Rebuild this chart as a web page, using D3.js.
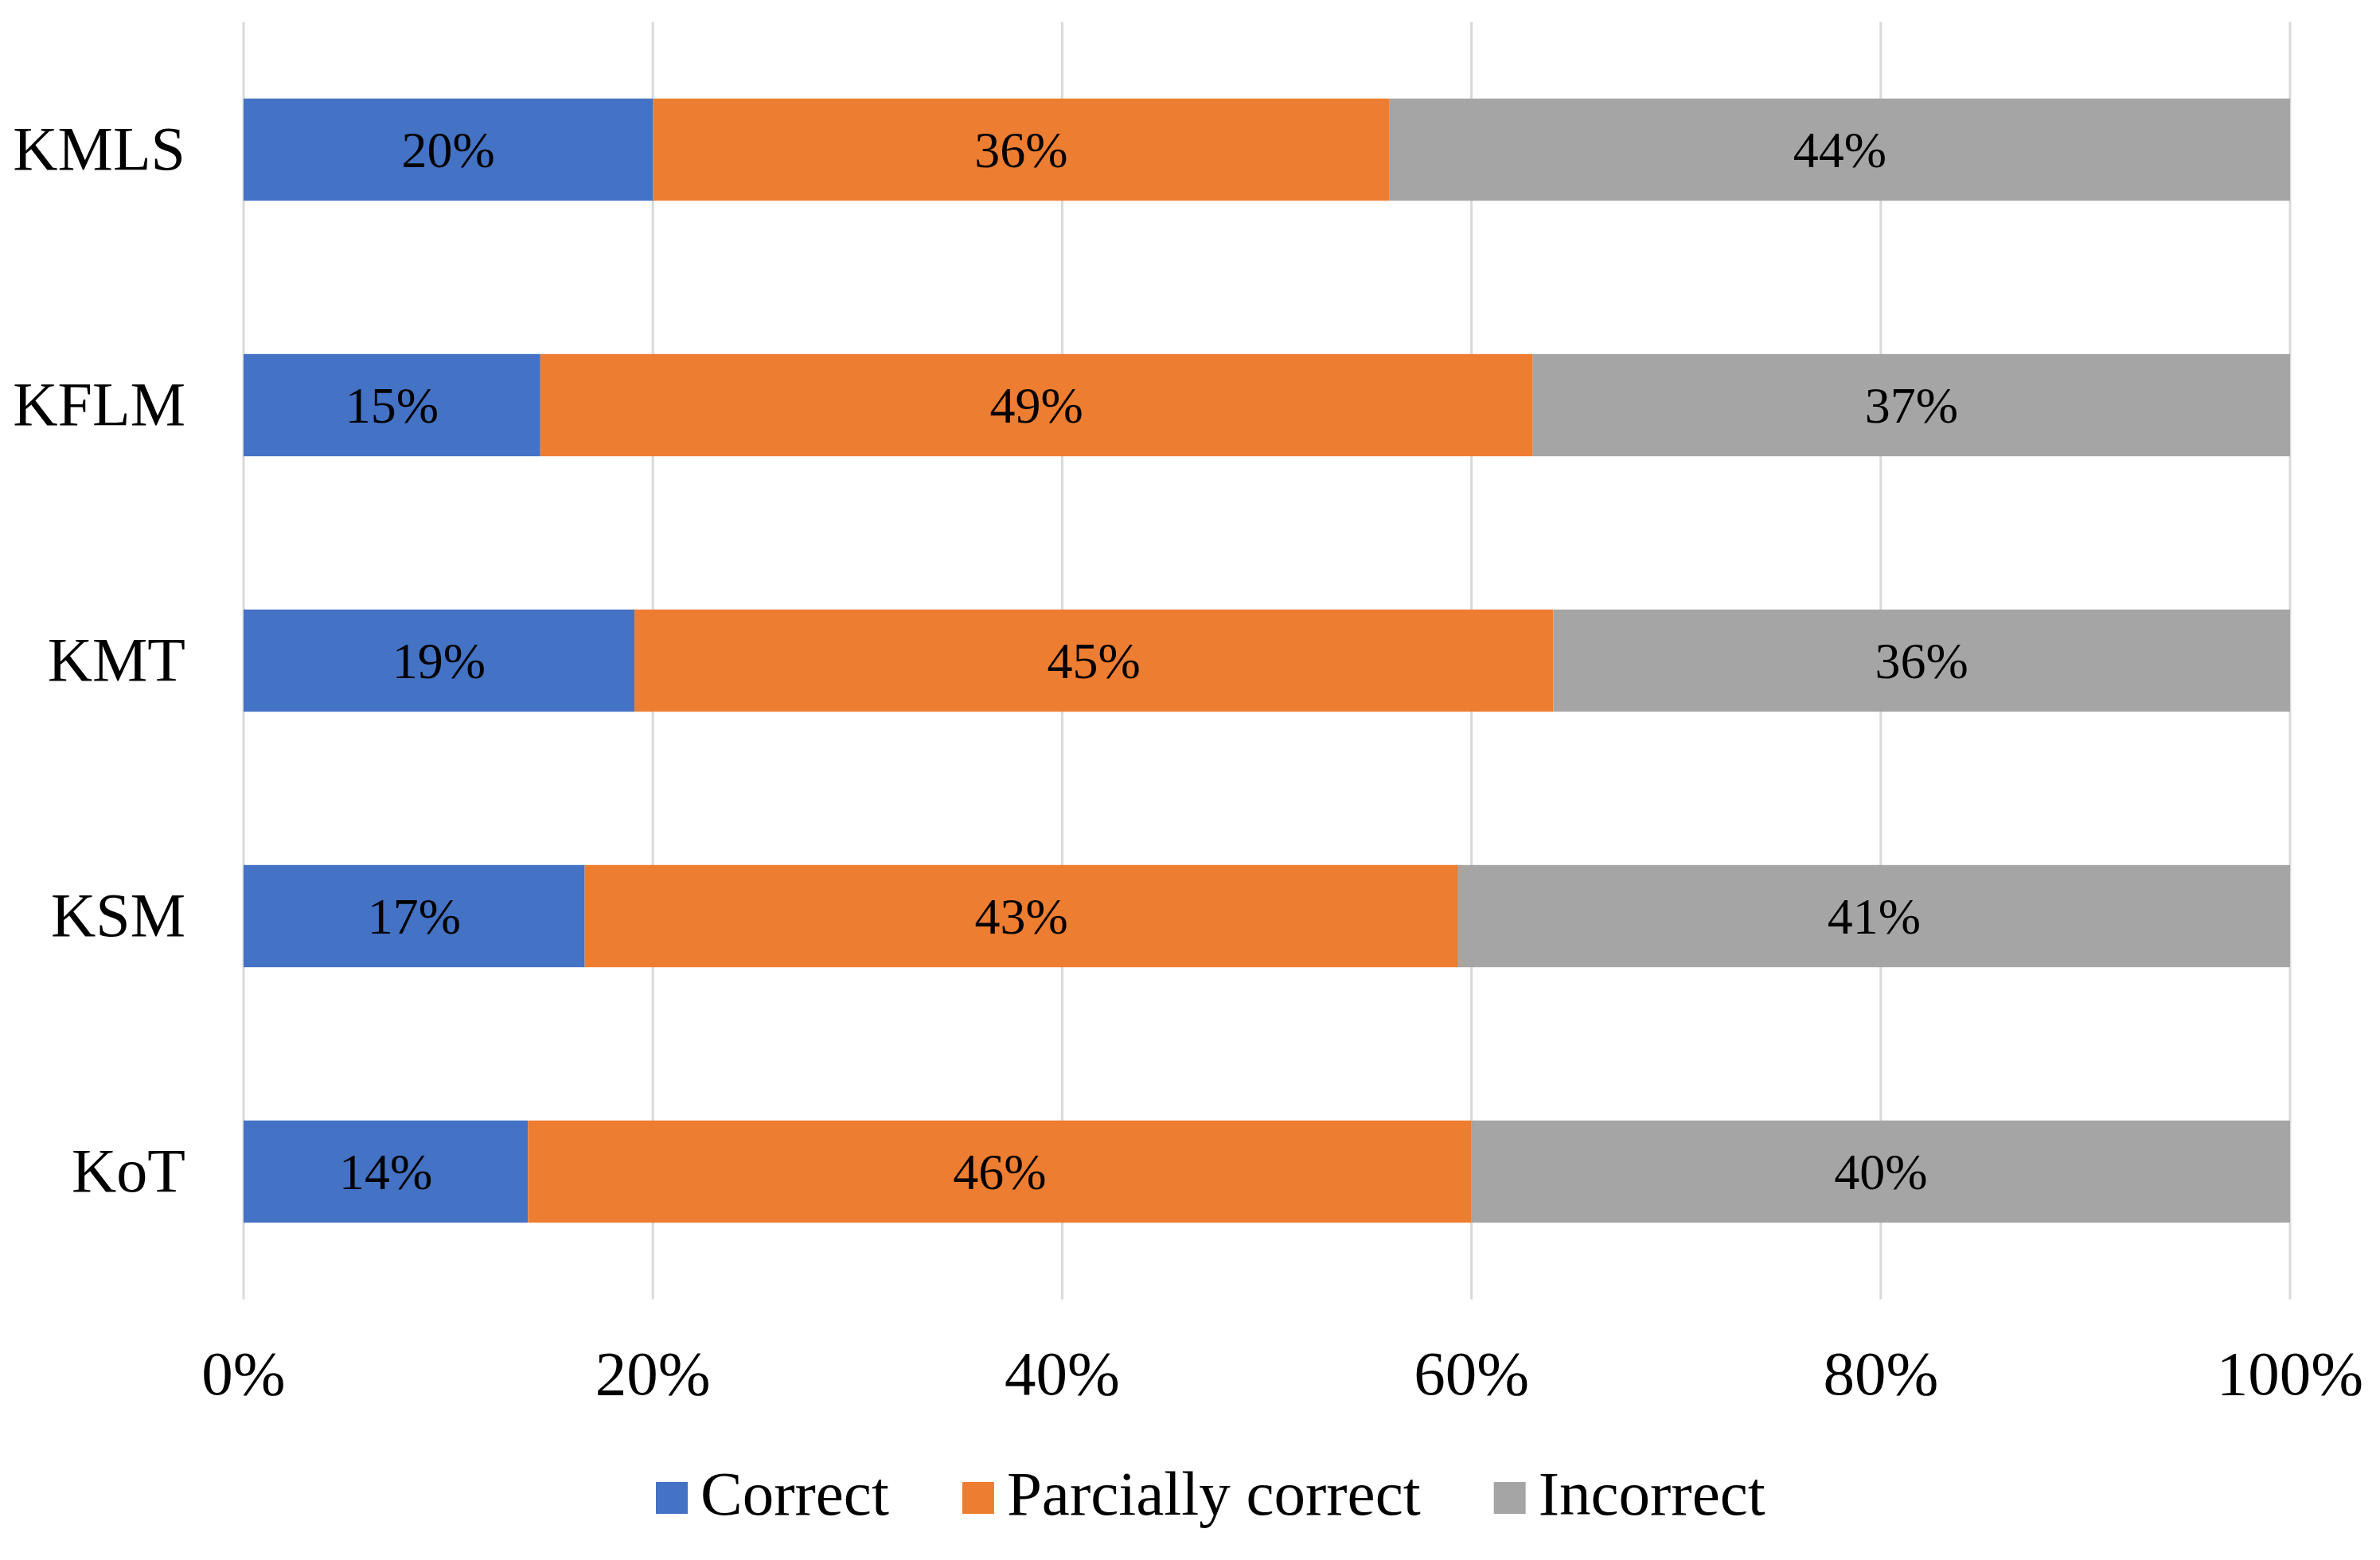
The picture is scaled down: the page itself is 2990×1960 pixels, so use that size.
<!DOCTYPE html>
<html>
<head>
<meta charset="utf-8">
<script src="https://cdn.jsdelivr.net/npm/d3@7"></script>
<style>
  html, body { margin: 0; padding: 0; background: #ffffff; }
  svg { display: block; }
</style>
</head>
<body>
<svg id="chart" width="2990" height="1960"></svg>
<script>
// ---- data ----
const categories = ["KMLS", "KFLM", "KMT", "KSM", "KoT"];
const seriesNames = ["Correct", "Parcially correct", "Incorrect"];
const correct   = [20, 14.5, 19.1, 16.67, 13.9];
const partially = [36, 48.5, 44.9, 42.68, 46.1];
const incorrect = [44, 37,   36.0, 40.65, 40.0];
const tickValues = [0, 0.2, 0.4, 0.6, 0.8, 1.0];
const tickLabels = ["0%", "20%", "40%", "60%", "80%", "100%"];
const colors = ["#4472C4", "#ED7D31", "#A5A5A5"];

// ---- layout ----
const svg = d3.select("#chart");
const fontFamily = "'Liberation Serif', 'Times New Roman', serif";
const plot = { left: 306, right: 2877, top: 27.5, bottom: 1632.5 };

const rows = categories.map((c, i) => {
  const vals = [correct[i], partially[i], incorrect[i]];
  const total = d3.sum(vals);
  return { cat: c, vals: vals.map(v => v / total), raw: vals };
});

const x = d3.scaleLinear().domain([0, 1]).range([plot.left, plot.right]);
const y = d3.scaleBand().domain(categories).range([plot.top, plot.bottom])
  .paddingInner(0.6).paddingOuter(0.3);

// gridlines
svg.append("g").selectAll("line").data(tickValues).join("line")
  .attr("x1", d => x(d)).attr("x2", d => x(d))
  .attr("y1", plot.top).attr("y2", plot.bottom)
  .attr("stroke", "#d9d9d9").attr("stroke-width", 3);

// bars
const stackData = rows.map(r => {
  let acc = 0;
  return r.vals.map((v, k) => {
    const seg = { cat: r.cat, k, x0: acc, x1: acc + v, label: Math.round(r.raw[k]) + "%" };
    acc += v;
    return seg;
  });
}).flat();

const barG = svg.append("g");
barG.selectAll("rect").data(stackData).join("rect")
  .attr("x", d => x(d.x0))
  .attr("width", d => x(d.x1) - x(d.x0))
  .attr("y", d => y(d.cat))
  .attr("height", y.bandwidth())
  .attr("fill", d => colors[d.k]);

// data labels
barG.selectAll("text").data(stackData).join("text")
  .attr("x", d => (x(d.x0) + x(d.x1)) / 2)
  .attr("y", d => y(d.cat) + y.bandwidth() / 2 + 22)
  .attr("text-anchor", "middle")
  .attr("font-family", fontFamily)
  .attr("font-size", 64)
  .attr("fill", "#000")
  .text(d => d.label);

// category axis labels
svg.append("g").selectAll("text").data(categories).join("text")
  .attr("x", 233)
  .attr("y", d => y(d) + y.bandwidth() / 2 + 25)
  .attr("text-anchor", "end")
  .attr("font-family", fontFamily)
  .attr("font-size", 78)
  .attr("fill", "#000")
  .text(d => d);

// x axis tick labels
svg.append("g").selectAll("text").data(tickValues).join("text")
  .attr("x", d => x(d))
  .attr("y", 1752)
  .attr("text-anchor", "middle")
  .attr("font-family", fontFamily)
  .attr("font-size", 79)
  .attr("fill", "#000")
  .text((d, i) => tickLabels[i]);

// legend
const legend = svg.append("g");
let lx = 824;
seriesNames.forEach((name, i) => {
  legend.append("rect")
    .attr("x", lx).attr("y", 1862).attr("width", 40).attr("height", 40)
    .attr("fill", colors[i]);
  const t = legend.append("text")
    .attr("x", lx + 56).attr("y", 1903)
    .attr("font-family", fontFamily)
    .attr("font-size", 79)
    .attr("fill", "#000")
    .text(name);
  const w = t.node().getComputedTextLength();
  lx = lx + 56 + w + 92;
});
</script>
</body>
</html>
